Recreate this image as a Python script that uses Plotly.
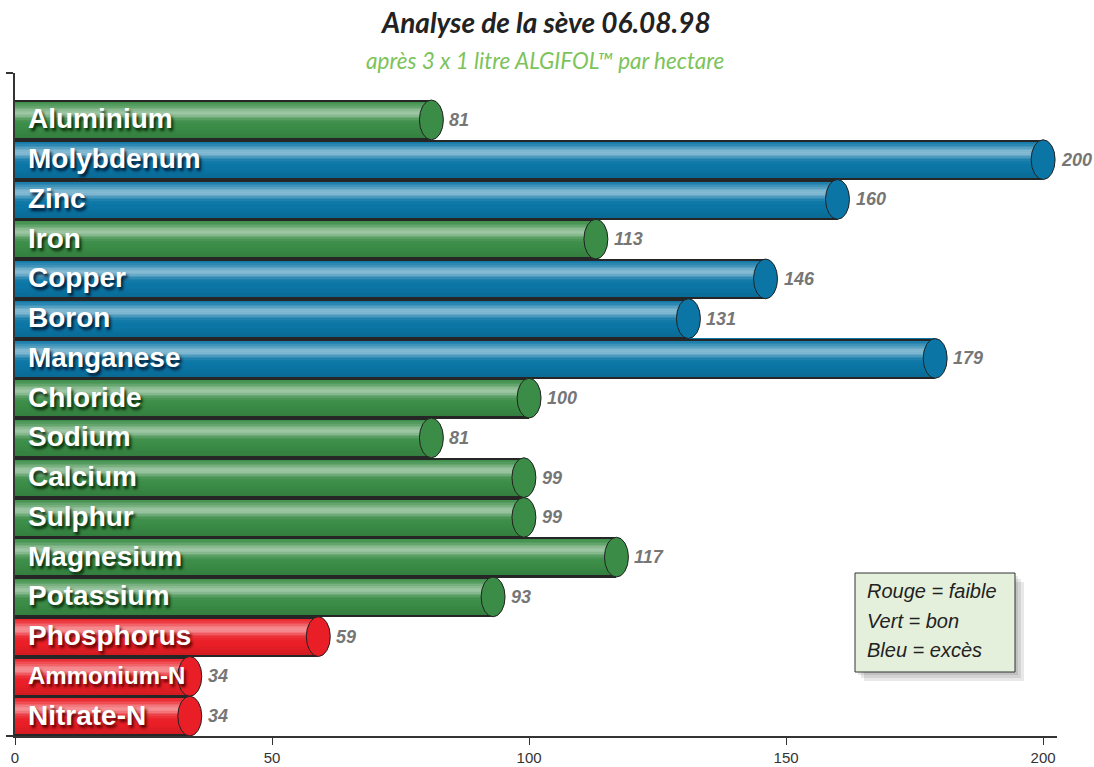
import numpy as np
import plotly.graph_objects as go

# valeurs (analyse de sève 06.08.98)
elements = ["Aluminium", "Molybdenum", "Zinc", "Iron", "Copper", "Boron", "Manganese",
            "Chloride", "Sodium", "Calcium", "Sulphur", "Magnesium", "Potassium",
            "Phosphorus", "Ammonium-N", "Nitrate-N"]
valeurs = [81, 200, 160, 113, 146, 131, 179, 100, 81, 99, 99, 117, 93, 59, 34, 34]
statut = ["bon", "excès", "excès", "bon", "excès", "excès", "excès", "bon", "bon",
          "bon", "bon", "bon", "bon", "faible", "faible", "faible"]
x_ticks = [0, 50, 100, 150, 200]

W, H = 1094, 767
ML, MR, MT, MB = 15, 37, 73, 31
XMAX = 202.7
YTOP = 16.18

base = {"faible": (234, 30, 38), "bon": (58, 140, 70), "excès": (11, 118, 166)}
ombre = {"faible": "rgba(80,0,0,0.95)", "bon": "rgba(5,35,5,0.95)", "excès": "rgba(0,20,45,0.95)"}

n = len(elements)
ypos = [n - 1 - i for i in range(n)]  # Aluminium en haut


def teinte(rgb, t):
    # reflet de cylindre : zone claire vers le tiers haut, un peu plus sombre en bas
    sig = 0.17 if t < 0.33 else 0.14
    l = 0.5 * np.exp(-((t - 0.33) / sig) ** 2)
    d = 0.12 * max(0.0, (t - 0.7) / 0.3)
    c = [(v * (1 - l) + 255 * l) * (1 - d) for v in rgb]
    return "rgb(%d,%d,%d)" % tuple(int(round(v)) for v in c)


fig = go.Figure()

NB = 26
for k in range(NB):
    t = (k + 0.5) / NB
    fig.add_trace(go.Bar(
        x=valeurs, y=ypos, orientation="h",
        width=1.0 / NB + 0.004, offset=0.5 - (k + 1) / NB,
        marker=dict(color=[teinte(base[s], t) for s in statut], line=dict(width=0)),
        hoverinfo="skip", showlegend=False,
    ))

# contours haut et bas des cylindres
LW = 0.042
for off in (0.5 - LW, -0.5):
    fig.add_trace(go.Bar(
        x=valeurs, y=ypos, orientation="h", width=LW, offset=off,
        marker=dict(color="#262626", line=dict(width=0)),
        hoverinfo="skip", showlegend=False,
    ))

shapes = []
annotations = []
cap = 2.33
for nom, v, s, y in zip(elements, valeurs, statut, ypos):
    r, g, b = base[s]
    shapes.append(dict(type="circle", xref="x", yref="y",
                       x0=v - cap, x1=v + cap, y0=y - 0.5, y1=y + 0.5,
                       fillcolor="rgb(%d,%d,%d)" % (r, g, b),
                       line=dict(color="#222222", width=1)))
    taille = 28 if v > 40 or len(nom) < 10 else 24
    annotations.append(dict(x=0, y=y, xref="x", yref="y", xanchor="left", yanchor="middle",
                            xshift=11, yshift=1, text=nom, showarrow=False,
                            font=dict(family="Liberation Sans, Arial", size=taille, color="white",
                                      weight="bold", shadow="2px 3px 3px " + ombre[s])))
    annotations.append(dict(x=v, y=y, xref="x", yref="y", xanchor="left", yanchor="middle",
                            xshift=16, text=str(v), showarrow=False,
                            font=dict(family="Liberation Sans, Arial", size=18, color="#767676",
                                      weight="bold", style="italic")))


def px(xp):
    return (xp - ML) / (W - ML - MR)


def py(yp):
    return (H - MB - yp) / (H - MT - MB)


# titre et sous-titre
annotations.append(dict(x=px(545), y=py(22), xref="paper", yref="paper", xanchor="center",
                        yanchor="middle", text="Analyse de la sève 06.08.98", showarrow=False,
                        font=dict(family="Lato", size=28, color="#222222", weight="bold",
                                  style="italic")))
annotations.append(dict(x=px(545), y=py(60), xref="paper", yref="paper", xanchor="center",
                        yanchor="middle", text="après 3 x 1 litre ALGIFOL™ par hectare",
                        showarrow=False,
                        font=dict(family="Lato", size=22.5, color="#7cc35a", style="italic")))

# légende en cadre
for i in range(3):
    e = 3 + 3 * i
    shapes.append(dict(type="rect", xref="paper", yref="paper",
                       x0=px(855 + e), x1=px(1015 + e), y0=py(672 + e), y1=py(573 + e),
                       fillcolor="rgba(0,0,0,0.09)", line=dict(width=0), layer="above"))
shapes.append(dict(type="rect", xref="paper", yref="paper",
                   x0=px(855), x1=px(1015), y0=py(672), y1=py(573),
                   fillcolor="#e5f0dc", line=dict(color="#333333", width=1), layer="above"))
for txt, yp in zip(["Rouge = faible", "Vert = bon", "Bleu = excès"], [591, 621, 650]):
    annotations.append(dict(x=px(865), y=py(yp), xref="paper", yref="paper", xanchor="left",
                            yanchor="middle", text=txt, showarrow=False,
                            font=dict(family="Liberation Sans, Arial", size=20, color="#222222",
                                      style="italic")))

fig.update_layout(
    width=W, height=H, barmode="overlay", bargap=0,
    margin=dict(l=ML, r=MR, t=MT, b=MB, autoexpand=False),
    paper_bgcolor="white", plot_bgcolor="white",
    shapes=shapes, annotations=annotations, hovermode=False,
    xaxis=dict(range=[0, XMAX], tickvals=x_ticks, ticks="outside", ticklen=7, tickwidth=1,
               tickcolor="#333333", showline=True, linecolor="#333333", linewidth=2,
               showgrid=False, zeroline=False, automargin=False,
               tickfont=dict(family="Liberation Sans, Arial", size=15, color="#333333")),
    yaxis=dict(range=[-0.5, YTOP], tickvals=[-0.5, YTOP], ticks="outside", ticklen=7,
               tickwidth=2, tickcolor="#333333", showticklabels=False, showline=True,
               linecolor="#333333", linewidth=2, showgrid=False, zeroline=False,
               automargin=False),
)

# la page a une marge de 8px par défaut : on l'enlève
fig.write_html("out.html", config={"displayModeBar": False},
               post_script="document.body.style.margin='0';")
